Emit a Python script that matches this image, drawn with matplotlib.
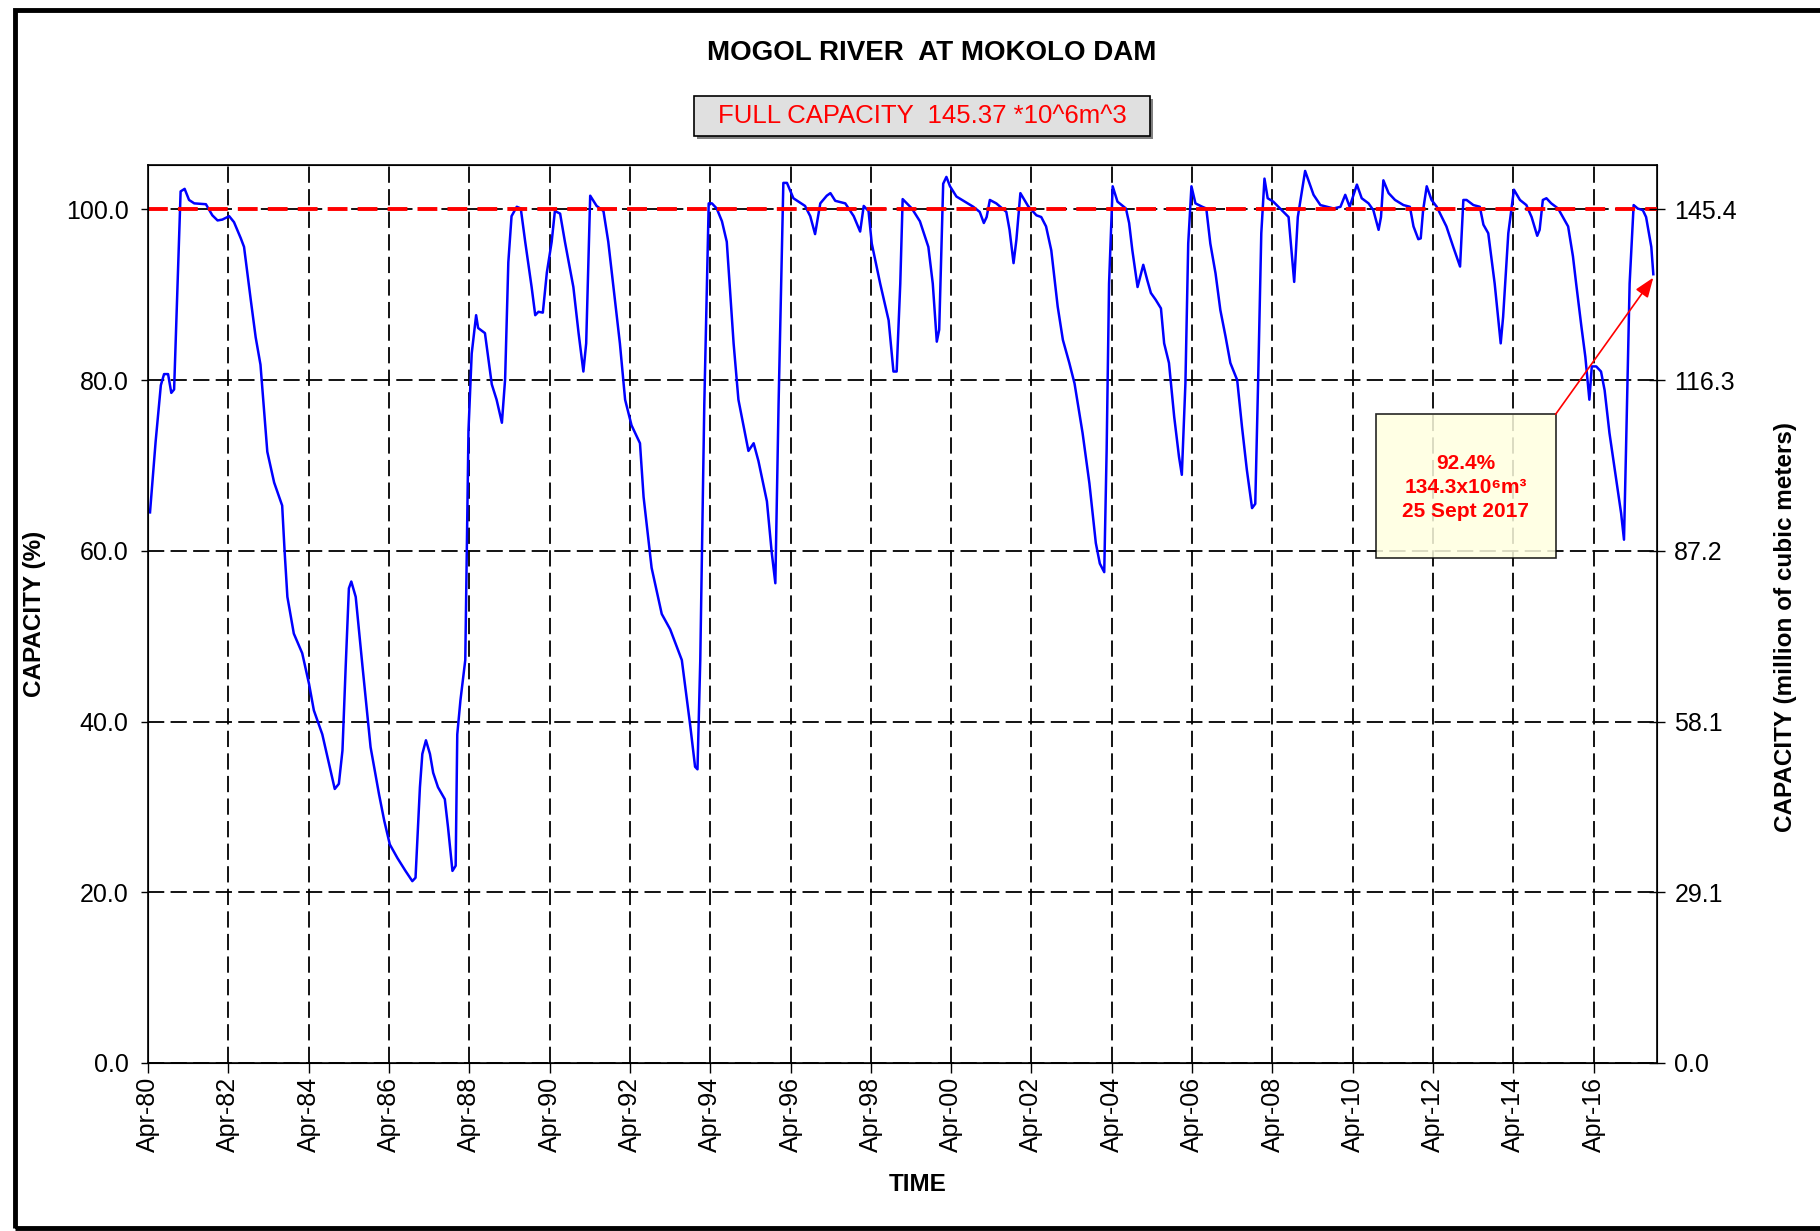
import matplotlib
matplotlib.use('Agg')
import matplotlib.pyplot as plt
import matplotlib.dates as mdates
from matplotlib.patches import Rectangle
from matplotlib.ticker import FormatStrFormatter
import pandas as pd

plt.rcParams['font.family'] = ['Liberation Sans', 'DejaVu Sans']

# full supply capacity of the dam, million m^3
FULL_CAP = 145.37

# readings: decimal year, % of full capacity
years = [
    1980.30, 1980.44, 1980.57, 1980.65, 1980.75, 1980.83, 1980.90, 1981.06, 1981.16, 1981.27,
    1981.40, 1981.69, 1981.85, 1981.98, 1982.10, 1982.27, 1982.39, 1982.56, 1982.64, 1982.81,
    1982.93, 1983.05, 1983.22, 1983.39, 1983.59, 1983.65, 1983.72, 1983.88, 1984.09, 1984.26,
    1984.38, 1984.59, 1984.76, 1984.90, 1985.00, 1985.09, 1985.17, 1985.25, 1985.31, 1985.42,
    1985.59, 1985.79, 1986.00, 1986.13, 1986.27, 1986.46, 1986.66, 1986.83, 1986.91, 1987.02,
    1987.08, 1987.17, 1987.27, 1987.35, 1987.47, 1987.64, 1987.72, 1987.83, 1987.91, 1987.95,
    1988.03, 1988.15, 1988.23, 1988.31, 1988.42, 1988.47, 1988.64, 1988.81, 1988.93, 1989.06,
    1989.14, 1989.22, 1989.30, 1989.43, 1989.53, 1989.64, 1989.80, 1989.89, 1989.97, 1990.08,
    1990.18, 1990.30, 1990.38, 1990.51, 1990.63, 1990.84, 1990.97, 1991.09, 1991.16, 1991.26,
    1991.42, 1991.59, 1991.71, 1991.84, 1992.00, 1992.13, 1992.29, 1992.50, 1992.59, 1992.79,
    1993.04, 1993.25, 1993.54, 1993.75, 1993.87, 1993.93, 1994.00, 1994.10, 1994.21, 1994.29,
    1994.41, 1994.54, 1994.66, 1994.83, 1994.95, 1995.20, 1995.33, 1995.45, 1995.66, 1995.78,
    1995.87, 1995.95, 1996.07, 1996.16, 1996.32, 1996.61, 1996.74, 1996.86, 1996.99, 1997.15,
    1997.24, 1997.36, 1997.61, 1997.82, 1997.98, 1998.07, 1998.19, 1998.27, 1998.48, 1998.69,
    1998.81, 1998.89, 1998.98, 1999.04, 1999.27, 1999.47, 1999.68, 1999.79, 1999.89, 1999.95,
    2000.05, 2000.13, 2000.22, 2000.38, 2000.59, 2000.80, 2000.96, 2001.06, 2001.13, 2001.21,
    2001.37, 2001.62, 2001.70, 2001.80, 2001.87, 2001.97, 2002.16, 2002.37, 2002.49, 2002.61,
    2002.74, 2002.90, 2003.03, 2003.19, 2003.32, 2003.52, 2003.69, 2003.85, 2003.95, 2004.06,
    2004.12, 2004.18, 2004.27, 2004.39, 2004.60, 2004.68, 2004.76, 2004.89, 2005.03, 2005.13,
    2005.22, 2005.34, 2005.47, 2005.55, 2005.67, 2005.80, 2005.92, 2005.99, 2006.08, 2006.15,
    2006.23, 2006.33, 2006.50, 2006.60, 2006.70, 2006.83, 2006.95, 2007.08, 2007.20, 2007.37,
    2007.49, 2007.61, 2007.74, 2007.82, 2007.89, 2007.97, 2008.05, 2008.13, 2008.27, 2008.48,
    2008.65, 2008.79, 2008.88, 2009.06, 2009.27, 2009.44, 2009.60, 2009.77, 2009.94, 2010.06,
    2010.17, 2010.35, 2010.47, 2010.64, 2010.76, 2010.89, 2010.95, 2011.01, 2011.14, 2011.30,
    2011.51, 2011.67, 2011.76, 2011.88, 2011.94, 2012.00, 2012.09, 2012.21, 2012.34, 2012.58,
    2012.75, 2012.92, 2013.00, 2013.08, 2013.25, 2013.41, 2013.50, 2013.62, 2013.78, 2013.93,
    2013.99, 2014.12, 2014.26, 2014.41, 2014.57, 2014.70, 2014.84, 2014.90, 2014.98, 2015.07,
    2015.19, 2015.36, 2015.48, 2015.61, 2015.73, 2015.81, 2015.94, 2016.04, 2016.14, 2016.20,
    2016.31, 2016.43, 2016.52, 2016.64, 2016.81, 2016.93, 2017.00, 2017.05, 2017.14, 2017.24,
    2017.34, 2017.47, 2017.55, 2017.68, 2017.73,
]
capacity_pct = [
    64.5, 72.8, 79.4, 80.7, 80.7, 78.5, 78.9, 102.1, 102.4, 101.1,
    100.7, 100.6, 99.3, 98.7, 98.8, 99.2, 98.5, 96.6, 95.6, 89.3,
    85.0, 81.8, 71.6, 68.0, 65.3, 60.0, 54.6, 50.3, 48.0, 44.4,
    41.3, 38.5, 35.0, 32.1, 32.7, 36.6, 46.4, 55.6, 56.4, 54.6,
    46.4, 37.0, 31.5, 28.4, 25.6, 24.0, 22.5, 21.3, 21.7, 32.3,
    36.2, 37.8, 36.2, 34.0, 32.3, 30.9, 27.6, 22.5, 23.1, 38.5,
    42.5, 47.2, 74.1, 83.1, 87.6, 86.1, 85.5, 79.5, 77.7, 75.0,
    80.1, 93.8, 99.2, 100.3, 100.1, 96.2, 90.9, 87.6, 88.0, 87.9,
    92.6, 96.2, 99.8, 99.5, 96.2, 90.9, 85.5, 81.0, 84.3, 101.6,
    100.4, 99.8, 96.2, 90.9, 84.3, 77.7, 74.7, 72.6, 66.3, 58.0,
    52.6, 50.8, 47.2, 39.5, 34.7, 34.4, 47.2, 77.1, 100.7, 100.7,
    100.1, 98.6, 96.2, 84.3, 77.7, 71.7, 72.6, 70.5, 65.8, 59.8,
    56.2, 77.1, 103.1, 103.1, 101.3, 100.4, 99.2, 97.1, 100.7, 101.6,
    101.9, 101.0, 100.7, 99.2, 97.4, 100.4, 99.8, 96.0, 91.3, 87.0,
    81.0, 81.0, 91.3, 101.2, 100.1, 98.6, 95.6, 91.3, 84.5, 85.9,
    103.0, 103.8, 102.7, 101.5, 100.9, 100.3, 99.7, 98.4, 99.1, 101.1,
    100.7, 99.7, 97.6, 93.7, 96.4, 101.9, 100.4, 99.3, 99.1, 98.0,
    95.2, 88.6, 84.7, 82.0, 79.6, 73.8, 67.9, 60.9, 58.5, 57.5,
    71.8, 91.3, 102.7, 100.9, 100.1, 98.4, 95.2, 90.9, 93.5, 91.7,
    90.2, 89.4, 88.4, 84.3, 82.0, 75.7, 71.0, 68.9, 79.6, 96.0,
    102.7, 100.7, 100.3, 100.1, 96.0, 92.5, 88.2, 85.1, 82.0, 80.0,
    74.5, 69.5, 65.0, 65.5, 79.6, 97.2, 103.6, 101.3, 100.9, 99.9,
    99.1, 91.5, 99.1, 104.5, 101.7, 100.5, 100.3, 100.1, 100.3, 101.7,
    100.3, 102.9, 101.3, 100.7, 99.9, 97.6, 99.1, 103.4, 101.9, 101.1,
    100.5, 100.3, 98.0, 96.5, 96.6, 99.9, 102.7, 101.1, 100.3, 98.0,
    95.6, 93.3, 101.1, 101.1, 100.5, 100.3, 98.2, 97.2, 91.3, 84.3,
    87.4, 97.2, 102.3, 101.1, 100.5, 99.1, 96.9, 97.6, 101.1, 101.3,
    100.7, 100.1, 99.1, 98.0, 94.5, 91.3, 86.3, 82.7, 77.7, 81.6,
    81.6, 81.0, 78.8, 73.8, 68.3, 64.4, 61.3, 71.8, 91.3, 100.5,
    100.1, 99.9, 99.1, 95.6, 92.4,
]

pct_ticks = [0, 20, 40, 60, 80, 100]
note_lines = ['92.4%', '134.3x10\u2076m\u00b3', '25 Sept 2017']


def to_date(y):
    # decimal year -> timestamp
    yr = int(y)
    return pd.Timestamp(year=yr, month=1, day=1) + pd.Timedelta(days=(y - yr) * 365.25)


dates = pd.DatetimeIndex([to_date(y) for y in years])

fig = plt.figure(figsize=(18.2, 12.31), dpi=100)
ax = fig.add_axes([0.0813, 0.1365, 0.8291, 0.7295])

ax.plot(dates, capacity_pct, color='#0000ff', lw=1.8, zorder=3)
ax.axhline(100, color='red', lw=2.8, linestyle=(0, (5.1, 2.6)), zorder=4)

ax.set_xlim(to_date(1980.25), to_date(2017.82))
ax.set_ylim(0, 105.2)
ax.set_yticks(pct_ticks)
ax.yaxis.set_major_formatter(FormatStrFormatter('%.1f'))
ax.set_xticks(pd.date_range('1980-04-01', '2016-04-01', freq='24MS'))
ax.xaxis.set_major_formatter(mdates.DateFormatter('%b-%y'))
plt.setp(ax.get_xticklabels(), rotation=90)

ax.grid(True, color='black', linestyle=(0, (9, 3.5)), linewidth=1.3, zorder=1)
ax.tick_params(axis='y', direction='out', length=5, width=1, labelsize=18, pad=9)
ax.tick_params(axis='x', direction='out', length=7, width=1, labelsize=18, pad=3)
for s in ax.spines.values():
    s.set_linewidth(1.2)

# right axis in million m^3
ax2 = ax.twinx()
ax2.set_ylim(0, 105.2 * FULL_CAP / 100)
ax2.set_yticks([p * FULL_CAP / 100 for p in pct_ticks])
ax2.yaxis.set_major_formatter(FormatStrFormatter('%.1f'))
ax2.tick_params(axis='y', direction='inout', length=11, width=1, labelsize=18, pad=7)

# annotation box + arrow
bx0, bx1 = mdates.date2num(to_date(2010.82)), mdates.date2num(to_date(2015.30))
ax.add_patch(Rectangle((bx0, 59.1), bx1 - bx0, 76.0 - 59.1, facecolor='#ffffe0',
                       edgecolor='black', lw=1.2, alpha=0.85, zorder=5))
ax.text((bx0 + bx1) / 2, 67.4, '\n'.join(note_lines), color='red', fontsize=15,
        fontweight='bold', ha='center', va='center', linespacing=1.35, zorder=6)
ax.annotate('', xy=(to_date(2017.73), 92.0), xytext=(to_date(2015.30), 76.0),
            arrowprops=dict(arrowstyle='-|>,head_length=0.8,head_width=0.3', color='red',
                            lw=1.2, mutation_scale=15, shrinkA=0, shrinkB=0), zorder=6)

# titles and labels
fig.text(0.5118, 0.9566, 'MOGOL RIVER  AT MOKOLO DAM', fontsize=20, fontweight='bold',
         ha='center', va='center')
fig.add_artist(Rectangle((0.3830, 0.8870), 0.2505, 0.0325, transform=fig.transFigure,
                         facecolor='#808080', edgecolor='none'))
fig.add_artist(Rectangle((0.3813, 0.8895), 0.2506, 0.0325, transform=fig.transFigure,
                         facecolor='#e0e0e0', edgecolor='black', lw=1.2))
fig.text(0.5066, 0.9058, 'FULL CAPACITY  145.37 *10^6m^3', color='red', fontsize=18.5,
         ha='center', va='center')
fig.text(0.0192, 0.501, 'CAPACITY (%)', rotation=90, fontsize=17.5, fontweight='bold',
         ha='center', va='center')
fig.text(0.9808, 0.4907, 'CAPACITY (million of cubic meters)', rotation=90, fontsize=17.5,
         fontweight='bold', ha='center', va='center')
fig.text(0.5044, 0.0374, 'TIME', fontsize=17.5, fontweight='bold', ha='center', va='center')

# outer frame of the chart area
fig.add_artist(Rectangle((0.0082, 0.0024), 1.1, 0.9895, transform=fig.transFigure,
                         fill=False, edgecolor='black', lw=3.5))

fig.savefig('out.png', dpi=100)
